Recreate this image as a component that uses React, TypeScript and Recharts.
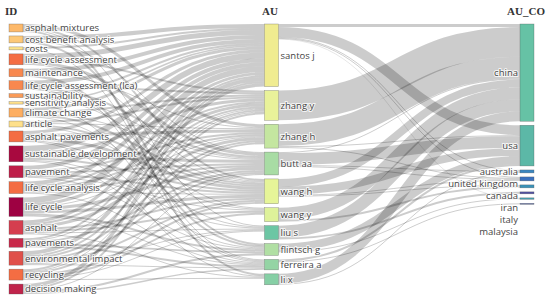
import React from "react";
import { Sankey } from "recharts";

// ---------- data ----------
const keywords = [
  "asphalt mixtures",
  "cost benefit analysis",
  "costs",
  "life cycle assessment",
  "maintenance",
  "life cycle assessment (lca)",
  "sustainability",
  "sensitivity analysis",
  "climate change",
  "article",
  "asphalt pavements",
  "sustainable development",
  "pavement",
  "life cycle analysis",
  "life cycle",
  "asphalt",
  "pavements",
  "environmental impact",
  "recycling",
  "decision making",
];

const authors = [
  "santos j",
  "zhang y",
  "zhang h",
  "butt aa",
  "wang h",
  "wang y",
  "liu s",
  "flintsch g",
  "ferreira a",
  "li x",
];

const countries = [
  "china",
  "usa",
  "australia",
  "united kingdom",
  "canada",
  "iran",
  "italy",
  "malaysia",
];

const columnTitles = ["ID", "AU", "AU_CO"];

// keyword -> author flows
const keywordAuthorLinks: [string, string, number][] = [
  ["asphalt mixtures", "zhang h", 3],
  ["asphalt mixtures", "wang h", 2],
  ["asphalt mixtures", "liu s", 1],
  ["asphalt mixtures", "li x", 2],
  ["cost benefit analysis", "santos j", 4],
  ["cost benefit analysis", "butt aa", 1],
  ["cost benefit analysis", "flintsch g", 2],
  ["costs", "santos j", 2],
  ["costs", "ferreira a", 1],
  ["life cycle assessment", "santos j", 5],
  ["life cycle assessment", "zhang y", 2],
  ["life cycle assessment", "butt aa", 3],
  ["life cycle assessment", "wang h", 1],
  ["maintenance", "santos j", 4],
  ["maintenance", "zhang h", 1],
  ["maintenance", "flintsch g", 2],
  ["maintenance", "ferreira a", 1],
  ["life cycle assessment (lca)", "santos j", 4],
  ["life cycle assessment (lca)", "zhang y", 2],
  ["life cycle assessment (lca)", "butt aa", 2],
  ["life cycle assessment (lca)", "wang y", 1],
  ["sustainability", "santos j", 2],
  ["sustainability", "butt aa", 1],
  ["sustainability", "wang h", 1],
  ["sensitivity analysis", "santos j", 1.5],
  ["sensitivity analysis", "ferreira a", 1],
  ["climate change", "santos j", 3],
  ["climate change", "zhang y", 2],
  ["climate change", "butt aa", 1],
  ["climate change", "wang h", 2],
  ["climate change", "liu s", 1],
  ["article", "zhang y", 2],
  ["article", "zhang h", 1],
  ["article", "wang h", 2],
  ["article", "wang y", 1],
  ["asphalt pavements", "santos j", 3],
  ["asphalt pavements", "zhang h", 3],
  ["asphalt pavements", "wang h", 3],
  ["asphalt pavements", "flintsch g", 1],
  ["asphalt pavements", "li x", 1],
  ["sustainable development", "santos j", 6],
  ["sustainable development", "zhang y", 3],
  ["sustainable development", "butt aa", 3],
  ["sustainable development", "wang h", 2],
  ["sustainable development", "liu s", 1],
  ["sustainable development", "ferreira a", 1],
  ["pavement", "santos j", 4],
  ["pavement", "zhang h", 2],
  ["pavement", "butt aa", 2],
  ["pavement", "wang h", 2],
  ["pavement", "wang y", 1],
  ["pavement", "flintsch g", 1],
  ["life cycle analysis", "santos j", 4],
  ["life cycle analysis", "zhang y", 2],
  ["life cycle analysis", "zhang h", 2],
  ["life cycle analysis", "butt aa", 2],
  ["life cycle analysis", "wang h", 1],
  ["life cycle analysis", "ferreira a", 1],
  ["life cycle", "santos j", 6],
  ["life cycle", "zhang y", 3],
  ["life cycle", "zhang h", 1],
  ["life cycle", "butt aa", 3],
  ["life cycle", "wang h", 3],
  ["life cycle", "flintsch g", 2],
  ["life cycle", "ferreira a", 1],
  ["asphalt", "santos j", 3],
  ["asphalt", "zhang y", 2],
  ["asphalt", "zhang h", 3],
  ["asphalt", "wang h", 2],
  ["asphalt", "wang y", 2],
  ["asphalt", "liu s", 1],
  ["asphalt", "li x", 1],
  ["pavements", "santos j", 2],
  ["pavements", "zhang y", 1],
  ["pavements", "butt aa", 2],
  ["pavements", "flintsch g", 2],
  ["pavements", "ferreira a", 2],
  ["environmental impact", "santos j", 4],
  ["environmental impact", "zhang y", 2],
  ["environmental impact", "zhang h", 2],
  ["environmental impact", "butt aa", 2],
  ["environmental impact", "wang h", 2],
  ["environmental impact", "liu s", 1],
  ["environmental impact", "ferreira a", 1],
  ["recycling", "santos j", 2],
  ["recycling", "zhang y", 1],
  ["recycling", "zhang h", 2],
  ["recycling", "wang h", 2],
  ["recycling", "wang y", 2],
  ["recycling", "liu s", 1],
  ["recycling", "li x", 1],
  ["decision making", "santos j", 3.5],
  ["decision making", "zhang y", 2],
  ["decision making", "butt aa", 1],
  ["decision making", "flintsch g", 2],
  ["decision making", "ferreira a", 1.5],
];

// author -> country flows
const authorCountryLinks: [string, string, number][] = [
  ["santos j", "china", 3],
  ["santos j", "usa", 10],
  ["santos j", "australia", 1],
  ["santos j", "united kingdom", 1],
  ["santos j", "italy", 0.5],
  ["zhang y", "china", 30],
  ["zhang h", "china", 22],
  ["zhang h", "usa", 1],
  ["zhang h", "united kingdom", 1],
  ["butt aa", "usa", 12],
  ["butt aa", "china", 1],
  ["butt aa", "australia", 1],
  ["butt aa", "united kingdom", 1],
  ["wang h", "china", 8],
  ["wang h", "usa", 8],
  ["wang h", "united kingdom", 1],
  ["wang h", "canada", 1],
  ["wang y", "china", 12],
  ["wang y", "canada", 2],
  ["liu s", "china", 12],
  ["liu s", "iran", 2],
  ["flintsch g", "usa", 8],
  ["flintsch g", "italy", 1],
  ["ferreira a", "usa", 2],
  ["ferreira a", "malaysia", 1],
  ["li x", "china", 10],
  ["li x", "australia", 1],
];

// ---------- styles ----------
const nodeColors: Record<string, string> = {
  "asphalt mixtures": "#fdb96a",
  "cost benefit analysis": "#fdc877",
  costs: "#fde38b",
  "life cycle assessment": "#f46d43",
  maintenance: "#f8884f",
  "life cycle assessment (lca)": "#f8884f",
  sustainability: "#fa9b58",
  "sensitivity analysis": "#fee08b",
  "climate change": "#fdae61",
  article: "#fee08b",
  "asphalt pavements": "#f46d43",
  "sustainable development": "#a8093f",
  pavement: "#be1e48",
  "life cycle analysis": "#f46d43",
  "life cycle": "#9e0142",
  asphalt: "#d53e4f",
  pavements: "#c8294a",
  "environmental impact": "#e0504a",
  recycling: "#f46d43",
  "decision making": "#c0244b",
  "santos j": "#f0ec90",
  "zhang y": "#e9f29a",
  "zhang h": "#c4e6a0",
  "butt aa": "#a8dca4",
  "wang h": "#e6f598",
  "wang y": "#def29a",
  "liu s": "#6cc6a4",
  "flintsch g": "#b0dfa3",
  "ferreira a": "#94d4a4",
  "li x": "#86cfa5",
  china: "#66c2a5",
  usa: "#5cb8a7",
  australia: "#3a86c0",
  "united kingdom": "#3a70be",
  canada: "#3a92b8",
  iran: "#5050a2",
  italy: "#46a0b0",
  malaysia: "#5a6aa6",
};

const allNames = [...keywords, ...authors, ...countries];
const indexOf = (n: string) => allNames.indexOf(n);

const sankeyData = {
  nodes: allNames.map((name) => ({ name })),
  links: [
    ...keywordAuthorLinks.map(([s, t, v]) => ({ source: indexOf(s), target: indexOf(t), value: v })),
    ...authorCountryLinks.map(([s, t, v]) => ({ source: indexOf(s), target: indexOf(t), value: v })),
  ],
};

const labelFont = "'Open Sans', 'DejaVu Sans', sans-serif";

// label de-cluttering for the last column (text only)
const countryLabelY: Record<string, number> = {};
const LABEL_GAP = 12;

const SankeyNode = (props: any) => {
  const { x, y, width, height, payload } = props;
  const name: string = payload.name;
  const cIdx = countries.indexOf(name);
  const isCountry = cIdx >= 0;
  const h = Math.max(height, 1);
  let ly = y + h / 2;
  if (isCountry) {
    if (cIdx > 0) {
      const prev = countryLabelY[countries[cIdx - 1]];
      if (prev !== undefined) ly = Math.max(ly, prev + LABEL_GAP);
    }
    countryLabelY[name] = ly;
  }
  const tx = isCountry ? x - 2 : x + width + 2;
  return (
    <g>
      <rect
        x={x}
        y={y}
        width={width}
        height={h}
        fill={nodeColors[name] || "#999"}
        stroke="#555"
        strokeWidth={0.5}
        strokeOpacity={0.6}
      />
      <text
        x={tx}
        y={ly}
        dy="0.35em"
        textAnchor={isCountry ? "end" : "start"}
        fontFamily={labelFont}
        fontSize={9.5}
        fill="#444"
        stroke="#fff"
        strokeWidth={2}
        strokeOpacity={0.8}
        paintOrder="stroke"
      >
        {name}
      </text>
    </g>
  );
};

export default function App() {
  return (
    <div style={{ position: "absolute", left: 0, top: 0, width: 550, height: 301, background: "#fff" }}>
      <Sankey
        width={550}
        height={301}
        data={sankeyData}
        nodeWidth={14}
        nodePadding={4}
        iterations={0}
        sort={false}
        linkCurvature={0.5}
        margin={{ top: 24, right: 16, bottom: 7, left: 9 }}
        node={<SankeyNode />}
        link={{ stroke: "#000", strokeOpacity: 0.2 }}
      />
      <svg
        width={550}
        height={24}
        style={{ position: "absolute", left: 0, top: 0, pointerEvents: "none" }}
      >
        <text x={5} y={15} fontFamily="'Liberation Serif', serif" fontWeight="bold" fontSize={11} fill="#333">
          {columnTitles[0]}
        </text>
        <text x={270} y={15} textAnchor="middle" fontFamily="'Liberation Serif', serif" fontWeight="bold" fontSize={11} fill="#333">
          {columnTitles[1]}
        </text>
        <text x={545} y={15} textAnchor="end" fontFamily="'Liberation Serif', serif" fontWeight="bold" fontSize={11} fill="#333">
          {columnTitles[2]}
        </text>
      </svg>
    </div>
  );
}
